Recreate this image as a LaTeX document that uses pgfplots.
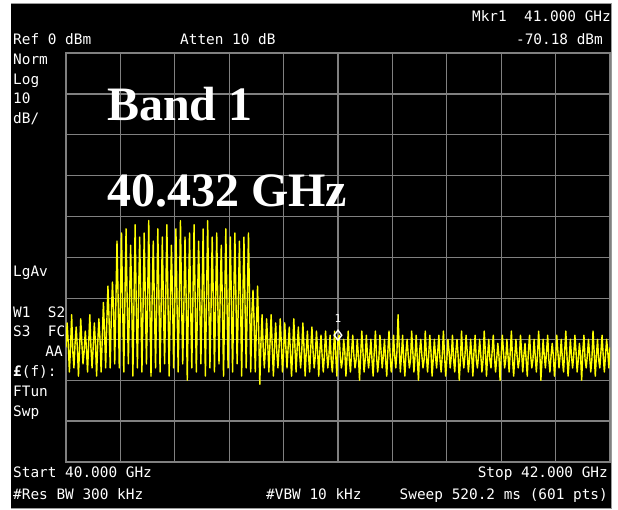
\documentclass[border=0pt]{standalone}
\usepackage{pgfplots}
\pgfplotsset{compat=1.18}
\usepackage{fontspec}
\setmainfont{DejaVu Sans Mono}
\newfontfamily\hp{DejaVu Sans Mono}
\newfontfamily\bigserif{Liberation Serif}
\definecolor{trace}{HTML}{FFFF00}
\definecolor{gridgray}{HTML}{808080}
\newcommand{\sm}{\hp\fontsize{14.4bp}{14.4bp}\selectfont}
\newcommand{\bg}{\bigserif\bfseries\fontsize{48bp}{48bp}\selectfont}
\begin{document}
\begin{tikzpicture}
\begin{scope}[x=1bp,y=1bp]
\fill[white] (0,0) rectangle (618,509);
\fill[black] (11,1) rectangle (611,505);
\draw[gridgray!80, line width=1.5bp] (11,505.5) -- (611.5,505.5) -- (611.5,0.5) -- (11,0.5);
\end{scope}
\begin{axis}[
  at={(66bp,47bp)}, anchor=south west,
  scale only axis, width=544bp, height=409bp,
  xmin=0, xmax=600, ymin=-100, ymax=0,
  xtick={0,60,...,600}, ytick={-100,-90,...,0},
  xticklabels={}, yticklabels={},
  major tick length=0pt,
  grid=major,
  major grid style={gridgray, line width=1.3bp},
  axis line style={gridgray, line width=1.5bp},
  clip=true,
]
\addplot[trace, line width=1.4bp, line join=round] coordinates {
(0,-72)(1.25,-66)(2.5,-71)(3.75,-78)
(5,-72)(6.25,-64)(7.5,-73)(8.75,-77)
(10,-71)(11.25,-67)(12.5,-72)(13.75,-79)
(15,-72)(16.25,-65)(17.5,-71)(18.75,-76)
(20,-73)(21.25,-68)(22.5,-72)(23.75,-78)
(25,-71)(26.25,-64)(27.5,-72)(28.75,-77)
(30,-72)(31.25,-66)(32.5,-71)(33.75,-79)
(35,-71)(36.25,-65)(37.5,-70)(38.75,-78)
(40,-70)(41.25,-61)(42.5,-68)(43.75,-77)
(45,-66)(46.25,-57)(47.5,-65)(48.75,-77)
(50,-64)(51.25,-56)(52.5,-63)(53.75,-76)
(55,-61)(56.25,-46)(57.5,-60)(58.75,-77)
(60,-61)(61.25,-44)(62.5,-62)(63.75,-78)
(65,-60)(66.25,-43)(67.5,-61)(68.75,-76)
(70,-62)(71.25,-47)(72.5,-60)(73.75,-79)
(75,-61)(76.25,-42)(77.5,-62)(78.75,-77)
(80,-60)(81.25,-45)(82.5,-61)(83.75,-78)
(85,-62)(86.25,-44)(87.5,-60)(88.75,-76)
(90,-61)(91.25,-41)(92.5,-62)(93.75,-79)
(95,-60)(96.25,-46)(97.5,-61)(98.75,-77)
(100,-62)(101.25,-43)(102.5,-60)(103.75,-78)
(105,-61)(106.25,-45)(107.5,-62)(108.75,-76)
(110,-60)(111.25,-42)(112.5,-61)(113.75,-79)
(115,-62)(116.25,-47)(117.5,-60)(118.75,-77)
(120,-61)(121.25,-43)(122.5,-62)(123.75,-78)
(125,-60)(126.25,-41)(127.5,-61)(128.75,-76)
(130,-62)(131.25,-45)(132.5,-60)(133.75,-80)
(135,-61)(136.25,-44)(137.5,-62)(138.75,-77)
(140,-60)(141.25,-42)(142.5,-61)(143.75,-78)
(145,-62)(146.25,-46)(147.5,-60)(148.75,-76)
(150,-61)(151.25,-43)(152.5,-62)(153.75,-79)
(155,-60)(156.25,-41)(157.5,-61)(158.75,-77)
(160,-62)(161.25,-45)(162.5,-60)(163.75,-78)
(165,-61)(166.25,-44)(167.5,-62)(168.75,-76)
(170,-60)(171.25,-47)(172.5,-61)(173.75,-79)
(175,-62)(176.25,-43)(177.5,-60)(178.75,-77)
(180,-61)(181.25,-45)(182.5,-62)(183.75,-78)
(185,-60)(186.25,-44)(187.5,-61)(188.75,-76)
(190,-62)(191.25,-46)(192.5,-60)(193.75,-79)
(195,-61)(196.25,-45)(197.5,-62)(198.75,-77)
(200,-60)(201.25,-44)(202.5,-61)(203.75,-78)
(205,-64)(206.25,-58)(207.5,-66)(208.75,-78)
(210,-67)(211.25,-57)(212.5,-68)(213.75,-81)
(215,-71)(216.25,-64)(217.5,-72)(218.75,-77)
(220,-72)(221.25,-65)(222.5,-71)(223.75,-78)
(225,-71)(226.25,-64)(227.5,-72)(228.75,-79)
(230,-72)(231.25,-66)(232.5,-73)(233.75,-77)
(235,-72)(236.25,-65)(237.5,-71)(238.75,-78)
(240,-73)(241.25,-66)(242.5,-72)(243.75,-77)
(245,-72)(246.25,-67)(247.5,-73)(248.75,-79)
(250,-73)(251.25,-65)(252.5,-72)(253.75,-78)
(255,-72)(256.25,-67)(257.5,-73)(258.75,-77)
(260,-73)(261.25,-66)(262.5,-72)(263.75,-79)
(265,-73)(266.25,-68)(267.5,-74)(268.75,-78)
(270,-72)(271.25,-67)(272.5,-73)(273.75,-77)
(275,-74)(276.25,-68)(277.5,-73)(278.75,-79)
(280,-73)(281.25,-69)(282.5,-74)(283.75,-78)
(285,-74)(286.25,-68)(287.5,-73)(288.75,-77)
(290,-74)(291.25,-69)(292.5,-75)(293.75,-78)
(295,-73)(296.25,-68)(297.5,-74)(298.75,-79)
(300,-70.18)(301.25,-69)(302.5,-74)(303.75,-77)
(305,-75)(306.25,-70)(307.5,-73)(308.75,-79)
(310,-74)(311.25,-68)(312.5,-75)(313.75,-78)
(315,-73)(316.25,-69)(317.5,-74)(318.75,-77)
(320,-75)(321.25,-70)(322.5,-74)(323.75,-80)
(325,-74)(326.25,-68)(327.5,-73)(328.75,-78)
(330,-75)(331.25,-69)(332.5,-74)(333.75,-77)
(335,-74)(336.25,-70)(337.5,-75)(338.75,-79)
(340,-73)(341.25,-68)(342.5,-74)(343.75,-78)
(345,-75)(346.25,-69)(347.5,-73)(348.75,-77)
(350,-74)(351.25,-70)(352.5,-75)(353.75,-79)
(355,-73)(356.25,-68)(357.5,-74)(358.75,-78)
(360,-75)(361.25,-69)(362.5,-74)(363.75,-77)
(365,-73)(366.25,-64)(367.5,-72)(368.75,-78)
(370,-74)(371.25,-69)(372.5,-75)(373.75,-79)
(375,-73)(376.25,-70)(377.5,-74)(378.75,-77)
(380,-75)(381.25,-68)(382.5,-73)(383.75,-78)
(385,-74)(386.25,-69)(387.5,-75)(388.75,-80)
(390,-73)(391.25,-70)(392.5,-74)(393.75,-77)
(395,-75)(396.25,-68)(397.5,-74)(398.75,-78)
(400,-74)(401.25,-69)(402.5,-73)(403.75,-79)
(405,-75)(406.25,-70)(407.5,-74)(408.75,-77)
(410,-73)(411.25,-69)(412.5,-75)(413.75,-78)
(415,-74)(416.25,-68)(417.5,-74)(418.75,-79)
(420,-75)(421.25,-70)(422.5,-73)(423.75,-77)
(425,-74)(426.25,-69)(427.5,-75)(428.75,-78)
(430,-73)(431.25,-70)(432.5,-74)(433.75,-80)
(435,-75)(436.25,-68)(437.5,-74)(438.75,-77)
(440,-74)(441.25,-69)(442.5,-73)(443.75,-78)
(445,-75)(446.25,-70)(447.5,-74)(448.75,-79)
(450,-73)(451.25,-69)(452.5,-75)(453.75,-77)
(455,-74)(456.25,-70)(457.5,-74)(458.75,-78)
(460,-75)(461.25,-68)(462.5,-73)(463.75,-79)
(465,-74)(466.25,-70)(467.5,-75)(468.75,-77)
(470,-73)(471.25,-69)(472.5,-74)(473.75,-78)
(475,-75)(476.25,-71)(477.5,-74)(478.75,-80)
(480,-74)(481.25,-69)(482.5,-73)(483.75,-77)
(485,-75)(486.25,-70)(487.5,-74)(488.75,-78)
(490,-73)(491.25,-68)(492.5,-75)(493.75,-79)
(495,-74)(496.25,-70)(497.5,-74)(498.75,-77)
(500,-75)(501.25,-69)(502.5,-73)(503.75,-78)
(505,-74)(506.25,-71)(507.5,-75)(508.75,-79)
(510,-73)(511.25,-69)(512.5,-74)(513.75,-77)
(515,-75)(516.25,-70)(517.5,-74)(518.75,-78)
(520,-74)(521.25,-68)(522.5,-73)(523.75,-80)
(525,-75)(526.25,-70)(527.5,-74)(528.75,-77)
(530,-73)(531.25,-69)(532.5,-75)(533.75,-78)
(535,-74)(536.25,-71)(537.5,-74)(538.75,-79)
(540,-75)(541.25,-69)(542.5,-73)(543.75,-77)
(545,-74)(546.25,-70)(547.5,-75)(548.75,-78)
(550,-73)(551.25,-68)(552.5,-74)(553.75,-79)
(555,-75)(556.25,-70)(557.5,-74)(558.75,-77)
(560,-74)(561.25,-69)(562.5,-73)(563.75,-78)
(565,-75)(566.25,-71)(567.5,-74)(568.75,-80)
(570,-73)(571.25,-69)(572.5,-75)(573.75,-77)
(575,-74)(576.25,-70)(577.5,-74)(578.75,-78)
(580,-75)(581.25,-68)(582.5,-73)(583.75,-79)
(585,-74)(586.25,-70)(587.5,-75)(588.75,-77)
(590,-73)(591.25,-69)(592.5,-74)(593.75,-78)
(595,-74)(596.25,-70)(597.5,-73)(598.75,-77)
(600,-72)
};
\addplot[only marks, mark=diamond, mark size=5bp, white, mark options={line width=1.4bp, fill=black}] coordinates {(300,-69)};
\node[white, font=\hp\fontsize{11bp}{11bp}\selectfont, anchor=base] at (axis cs:300,-66) {1};
\end{axis}
\begin{scope}[x=1bp,y=1bp, every node/.style={white, inner sep=0pt, font=\sm}]
\node[anchor=base east] at (611,487) {Mkr1\ \ 41.000 GHz};
\node[anchor=base west] at (13,464) {Ref 0 dBm};
\node[anchor=base west] at (180,464) {Atten 10 dB};
\node[anchor=base east] at (603,464) {-70.18 dBm};
\node[anchor=base west] at (13,444) {Norm};
\node[anchor=base west] at (13,424) {Log};
\node[anchor=base west] at (13,405) {10};
\node[anchor=base west] at (13,385) {dB/};
\node[anchor=base west] at (13,232) {LgAv};
\node[anchor=base west] at (13,191) {W1\ \ S2};
\node[anchor=base west] at (13,172) {S3\ \ FC};
\node[anchor=base east] at (63,152) {AA};
\node[anchor=base west] at (13,132) {\textbf{£}(f):};
\node[anchor=base west] at (13,112) {FTun};
\node[anchor=base west] at (13,92) {Swp};
\node[anchor=base west] at (13,31) {Start 40.000 GHz};
\node[anchor=base east] at (608,31) {Stop 42.000 GHz};
\node[anchor=base west] at (13,9) {\#Res BW 300 kHz};
\node[anchor=base west] at (266,9) {\#VBW 10 kHz};
\node[anchor=base east] at (608,9) {Sweep 520.2 ms (601 pts)};
\node[anchor=base west, font=\bg] at (107,388) {Band 1};
\node[anchor=base west, font=\bg] at (107,302) {40.432 GHz};
\end{scope}
\end{tikzpicture}
\end{document}
